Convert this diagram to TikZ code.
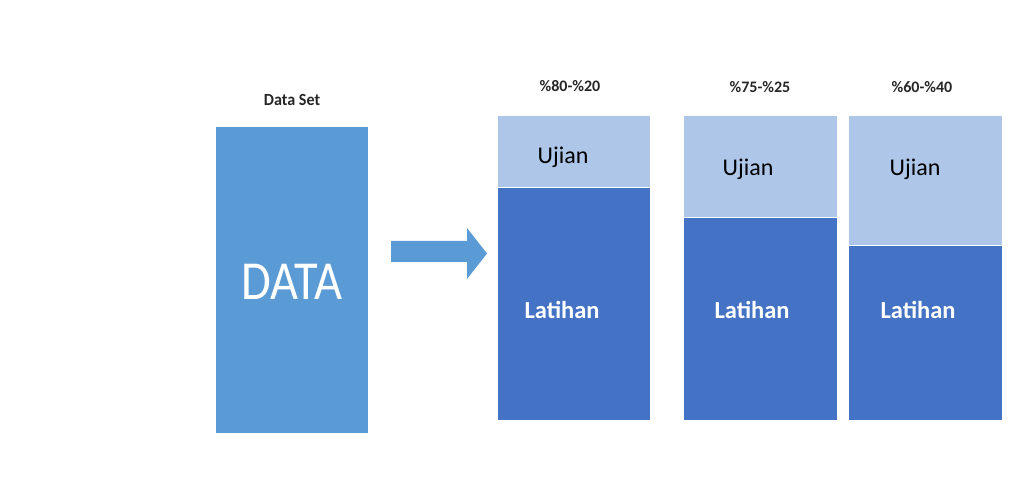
\documentclass[tikz,border=0pt]{standalone}
\usepackage{fontspec}
\setmainfont{Carlito}
\definecolor{databl}{HTML}{5B9BD5}
\definecolor{latbl}{HTML}{4472C4}
\definecolor{ujbl}{HTML}{AEC6E8}
\begin{document}
\begin{tikzpicture}[x=1pt,y=-1pt,
  blk/.style={draw=white, line width=0.8pt, inner sep=0pt, outer sep=0pt},
  datablk/.style={blk, fill=databl},
  latblk/.style={blk, fill=latbl},
  ujblk/.style={blk, fill=ujbl},
  title/.style={font=\fontsize{16}{18}\selectfont\bfseries, text=black!85},
  ujtxt/.style={font=\fontsize{24}{27}\selectfont, text=black},
  lattxt/.style={font=\fontsize{24.5}{27}\selectfont\bfseries, text=white},
  bigtxt/.style={font=\fontsize{55}{60}\selectfont, text=white}]
\useasboundingbox (0,0) rectangle (1013,481);
% Data set
\node[datablk, minimum width=153pt, minimum height=307pt] (data) at (291.5,279.5) {};
\node[bigtxt] (datat) at (292,282) {\scalebox{0.88}[1]{DATA}};
\node[title, font=\fontsize{17}{19}\selectfont\bfseries] (dst) at (292,100) {\scalebox{0.95}[1]{Data Set}};
% arrow
\fill[databl] (391,241) -- (467,241) -- (467,228) -- (487,253.5) -- (467,279) -- (467,262) -- (391,262) -- cycle;
% box 1
\node[ujblk, minimum width=153pt, minimum height=72pt] (u1) at (573.5,151) {};
\node[latblk, minimum width=153pt, minimum height=233pt] (l1) at (573.5,303.5) {};
\node[ujtxt] (u1t) at (563,157) {Ujian};
\node[lattxt] (l1t) at (562,310) {Latihan};
\node[title] (t1) at (570,86) {\%80-\%20};
% box 2
\node[ujblk, minimum width=154pt, minimum height=102pt] (u2) at (760,166) {};
\node[latblk, minimum width=154pt, minimum height=203pt] (l2) at (760,318.5) {};
\node[ujtxt] (u2t) at (748,169) {Ujian};
\node[lattxt] (l2t) at (752,310) {Latihan};
\node[title] (t2) at (760,87) {\%75-\%25};
% box 3
\node[ujblk, minimum width=154pt, minimum height=130pt] (u3) at (925,180) {};
\node[latblk, minimum width=154pt, minimum height=175pt] (l3) at (925,332.5) {};
\node[ujtxt] (u3t) at (915,169) {Ujian};
\node[lattxt] (l3t) at (918,310) {Latihan};
\node[title] (t3) at (922,87) {\%60-\%40};
\end{tikzpicture}
\end{document}
